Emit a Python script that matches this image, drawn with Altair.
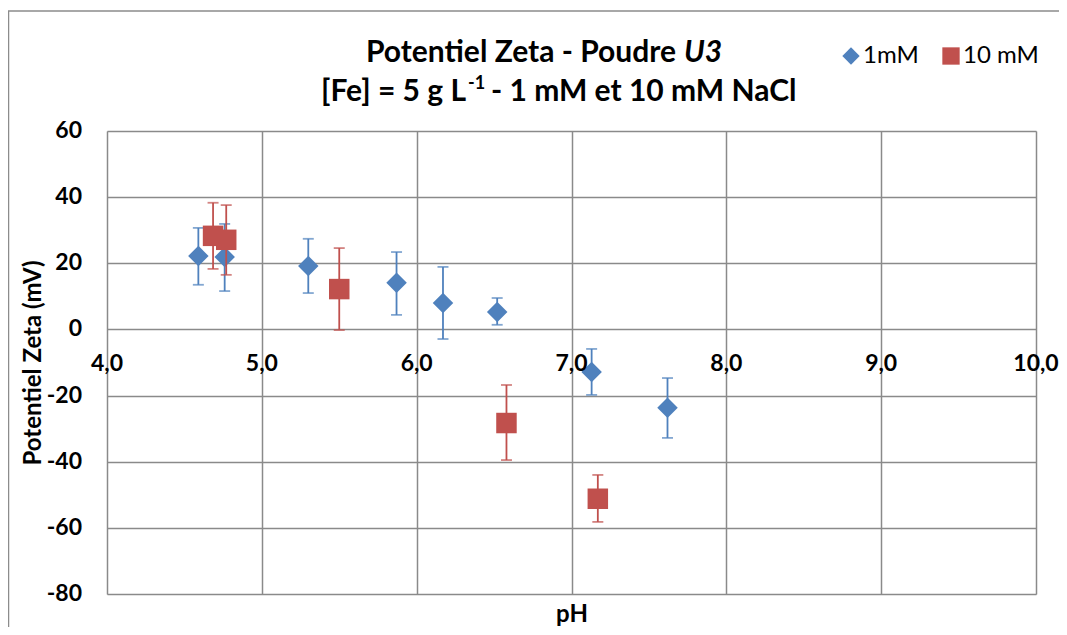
import altair as alt
import pandas as pd

# ---------------- data ----------------
series_names = ["1mM", "10 mM"]

ph_1mM = [4.59, 4.76, 5.30, 5.87, 6.17, 6.52, 7.13, 7.62]
zeta_1mM = [22.2, 21.9, 19.2, 14.1, 8.0, 5.3, -12.9, -23.7]
hi_1mM = [30.7, 31.9, 27.4, 23.4, 18.9, 9.5, -5.9, -14.7]
lo_1mM = [13.5, 11.6, 11.0, 4.4, -2.9, 1.4, -19.8, -32.8]

ph_10mM = [4.685, 4.77, 5.50, 6.58, 7.17]
zeta_10mM = [28.3, 27.1, 12.2, -28.3, -51.2]
hi_10mM = [38.3, 37.6, 24.6, -16.8, -44.0]
lo_10mM = [18.3, 16.5, -0.2, -39.5, -58.2]

x_tick_values = [4, 5, 6, 7, 8, 9, 10]
x_tick_labels = ["4,0", "5,0", "6,0", "7,0", "8,0", "9,0", "10,0"]
y_tick_values = [-80, -60, -40, -20, 0, 20, 40, 60]
y_tick_labels = ["-80", "-60", "-40", "-20", "0", "20", "40", "60"]

# ---------------- styles ----------------
BLUE = "#4F81BD"
RED = "#C0504D"
GRID = "#8a8a8a"
FONT = "Lato"

rows = []
for name, phs, zs, his, los in [
    (series_names[0], ph_1mM, zeta_1mM, hi_1mM, lo_1mM),
    (series_names[1], ph_10mM, zeta_10mM, hi_10mM, lo_10mM),
]:
    for p, z, h, l in zip(phs, zs, his, los):
        rows.append({"series": name, "ph": p, "zeta": z, "hi": h, "lo": l})
df = pd.DataFrame(rows)

xt = pd.DataFrame({"ph": x_tick_values, "zeta": [0] * len(x_tick_values), "label": x_tick_labels})
yt = pd.DataFrame({"ph": [4] * len(y_tick_values), "zeta": y_tick_values, "label": y_tick_labels})
one = pd.DataFrame({"k": [0]})

W, H = 929, 463

xscale = alt.Scale(domain=[4, 10], nice=False, zero=False)
yscale = alt.Scale(domain=[-80, 60], nice=False, zero=False)
cscale = alt.Scale(domain=series_names, range=[BLUE, RED])
sscale = alt.Scale(domain=series_names, range=["diamond", "square"])

legend = alt.Legend(
    title=None, orient="none", legendX=732, legendY=-87, direction="horizontal",
    symbolSize=300, symbolStrokeWidth=0, symbolOpacity=1, symbolType="diamond",
    labelFont=FONT, labelFontSize=24, labelColor="black", labelOffset=0,
    columnPadding=20, padding=0,
)

x_axis = alt.Axis(
    values=x_tick_values, labels=False, ticks=False, domain=False,
    grid=True, gridColor=GRID, gridWidth=1.5,
    title="pH", titleFont=FONT, titleFontSize=24, titleFontWeight="bold",
    titleColor="black", titleX=W / 2, titleY=27, titleAlign="center",
    titleBaseline="alphabetic",
)
y_axis = alt.Axis(
    values=y_tick_values, labels=False, ticks=False, domain=False,
    grid=True, gridColor=GRID, gridWidth=1.5,
    title="Potentiel Zeta (mV)", titleFont=FONT, titleFontSize=24,
    titleFontWeight="bold", titleColor="black", titleX=-74, titleY=H / 2,
    titleAlign="center", titleBaseline="middle", titleAngle=-90,
)

X = alt.X("ph:Q", scale=xscale, axis=x_axis)
Y = alt.Y("zeta:Q", scale=yscale, axis=y_axis)
C = alt.Color("series:N", scale=cscale, legend=legend)
S = alt.Shape("series:N", scale=sscale, legend=legend)

frame = alt.Chart(one).mark_rect(fillOpacity=0, stroke="#8c8c8c", strokeWidth=1.5).encode(
    x=alt.value(-98.5), x2=alt.value(1100), y=alt.value(-120), y2=alt.value(700)
)

layers = [frame]
for name in series_names:
    sub = df[df["series"] == name]
    base = alt.Chart(sub)
    rule = base.mark_rule(strokeWidth=1.8).encode(
        x=X, y=alt.Y("lo:Q", scale=yscale, axis=y_axis), y2="hi:Q", color=C
    )
    cap_hi = base.mark_tick(orient="horizontal", size=11, thickness=1.8).encode(
        x=X, y=alt.Y("hi:Q", scale=yscale, axis=y_axis), color=C
    )
    cap_lo = base.mark_tick(orient="horizontal", size=11, thickness=1.8).encode(
        x=X, y=alt.Y("lo:Q", scale=yscale, axis=y_axis), color=C
    )
    pts = base.mark_point(filled=True, opacity=1, size=420, strokeWidth=0).encode(
        x=X, y=Y, color=C, shape=S,
    )
    layers += [rule, cap_hi, cap_lo, pts]

xlabels = alt.Chart(xt).mark_text(
    font=FONT, fontSize=23, fontWeight="bold", color="black",
    baseline="alphabetic", align="center", dy=42,
).encode(x=X, y=Y, text="label:N")
ylabels = alt.Chart(yt).mark_text(
    font=FONT, fontSize=23, fontWeight="bold", color="black",
    baseline="middle", align="right", dx=-25,
).encode(x=X, y=Y, text="label:N")
layers += [xlabels, ylabels]

tstyle = dict(font=FONT, fontSize=30, fontWeight="bold", color="black", baseline="alphabetic")
t1a = alt.Chart(one).mark_text(align="right", text="Potentiel Zeta - Poudre", **tstyle).encode(
    x=alt.value(569), y=alt.value(-69))
t1b = alt.Chart(one).mark_text(align="left", text="U3", fontStyle="italic", **tstyle).encode(
    x=alt.value(577), y=alt.value(-69))
t2a = alt.Chart(one).mark_text(align="right", text="[Fe] = 5 g L", **tstyle).encode(
    x=alt.value(359), y=alt.value(-30))
t2b = alt.Chart(one).mark_text(align="left", text="-1", font=FONT, fontSize=18,
                               fontWeight="bold", color="black", baseline="alphabetic").encode(
    x=alt.value(361), y=alt.value(-42))
t2c = alt.Chart(one).mark_text(align="left", text="- 1 mM et 10 mM NaCl", **tstyle).encode(
    x=alt.value(384), y=alt.value(-30))
layers += [t1a, t1b, t2a, t2b, t2c]

chart = alt.layer(*layers).properties(
    width=W, height=H,
    autosize=alt.AutoSizeParams(type="none"),
    padding={"left": 99, "top": 123, "right": 23, "bottom": 33},
).configure_view(stroke=None).configure(background="white")

chart.save("out.html", embed_options={"renderer": "svg", "actions": False})
